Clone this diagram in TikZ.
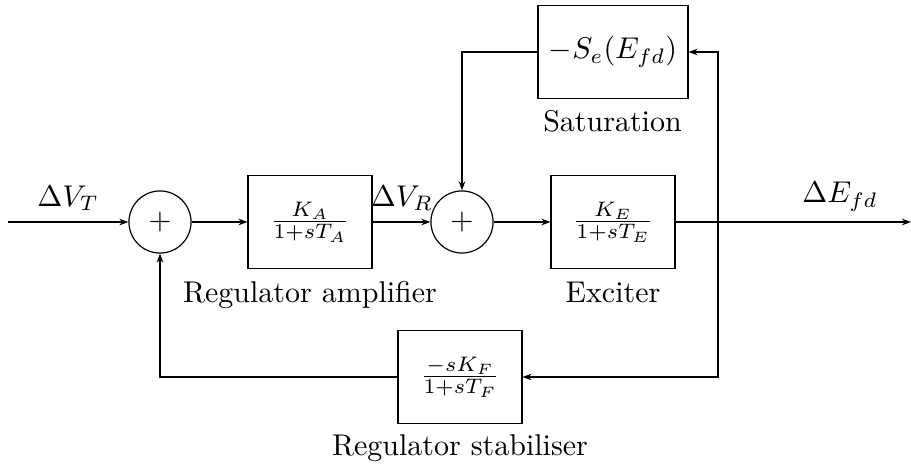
\documentclass[tikz,border=0pt]{standalone}
\usetikzlibrary{arrows.meta}
\begin{document}
\begin{tikzpicture}[x=0.33333pt,y=-0.33333pt,
  line width=0.4pt,
  arr/.style={-{Stealth[length=3pt,width=2.2pt]}},
  blk/.style={draw,rectangle,minimum width=41.3pt,minimum height=31pt,inner sep=0pt},
  sumn/.style={draw,circle,minimum size=20.7pt,inner sep=0pt},
  lab/.style={anchor=base}]
\useasboundingbox (0,0) rectangle (911,466);
\node[sumn] (s1) at (160,222) {$+$};
\node[blk] (b1) at (310,222) {$\frac{K_A}{1+sT_A}$};
\node[sumn] (s2) at (462,222) {$+$};
\node[blk] (b2) at (613,222) {$\frac{K_E}{1+sT_E}$};
\node[blk,minimum width=50pt] (sat) at (613,52) {$-S_e(E_{fd})$};
\node[blk] (stab) at (460,377) {$\frac{-sK_F}{1+sT_F}$};
\coordinate (in) at (8,222);
\coordinate (out) at (911,222);
\coordinate (br) at (718,222);
\node[lab] (lvt) at (68,206.5) {$\Delta V_T$};
\node[lab] (lvr) at (402,206.5) {$\Delta V_R$};
\node[lab] (lef) at (840,203) {$\Delta E_{fd}$};
\node[lab] (l1) at (310,303) {Regulator amplifier};
\node[lab] (l2) at (613,303) {Exciter};
\node[lab] (l3) at (612.5,131.5) {Saturation};
\node[lab] (l4) at (460,455) {Regulator stabiliser};
\draw[arr] (in) -- (s1);
\draw[arr] (s1) -- (b1);
\draw[arr] (b1) -- (s2);
\draw[arr] (s2) -- (b2);
\draw[arr] (b2) -- (out);
\draw[arr] (br) |- (sat.east);
\draw[arr] (br) |- (stab.east);
\draw[arr] (sat.west) -| (s2.north);
\draw[arr] (stab.west) -| (s1.south);
\end{tikzpicture}
\end{document}
